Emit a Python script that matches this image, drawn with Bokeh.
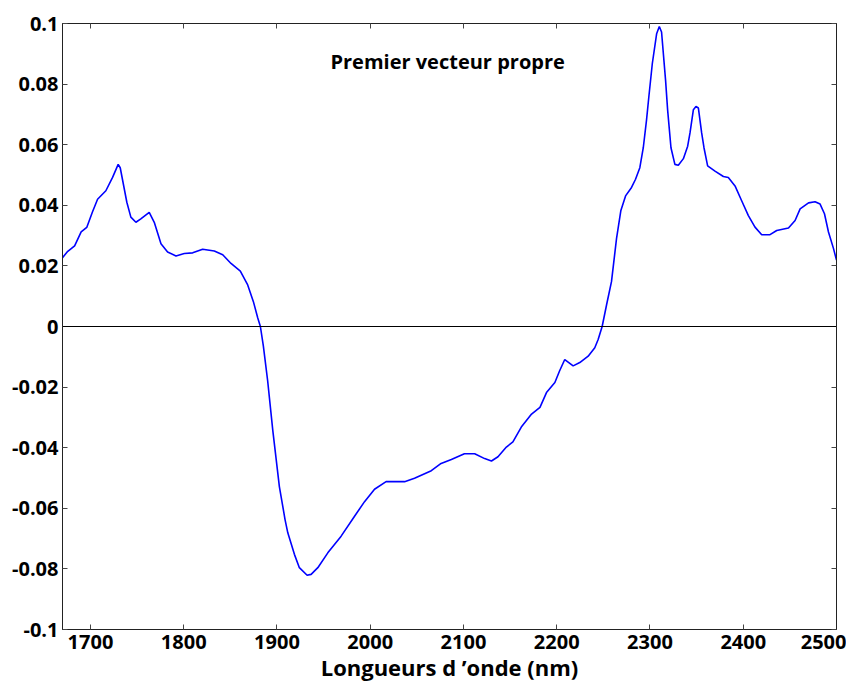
from bokeh.plotting import figure
from bokeh.models import Range1d, FixedTicker, LinearAxis, Span
from bokeh.core.properties import value
from bokeh.embed import file_html
from bokeh.resources import INLINE

wavelength = [1670, 1675, 1683, 1690, 1696, 1702, 1707.6, 1716.5, 1723.7, 1729.7, 1731.9,
              1739, 1743.3, 1748.7, 1754, 1763, 1768.4, 1775.6, 1782.7, 1791.7, 1800.6,
              1809.6, 1820.3, 1832.8, 1841.8, 1850.7, 1860.7, 1868.6, 1874.7, 1879.4, 1882.2,
              1885.4, 1890, 1895.5, 1902.6, 1908.7, 1911.6, 1918.7, 1924, 1932.3, 1936.6,
              1943.8, 1954.5, 1968.8, 1983, 1993.9, 2004.6, 2017, 2036.8, 2047.5, 2065.5,
              2076, 2087, 2101, 2112, 2122.7, 2130, 2137, 2146, 2153, 2162, 2173, 2182,
              2189, 2198, 2203, 2208.6, 2217.6, 2224.7, 2233.7, 2240.8, 2244.4, 2248.7,
              2253.4, 2258.7, 2261.6, 2264.1, 2268.7, 2273.8, 2280.2, 2284.5, 2289.1,
              2292.8, 2296.3, 2298.8, 2302.5, 2307.1, 2310, 2312.4, 2316.7, 2318.9, 2322.5,
              2326.7, 2330.4, 2335.8, 2340.4, 2342.9, 2346.5, 2349.3, 2351.9, 2355.4,
              2357.9, 2361.8, 2369.7, 2378.7, 2384, 2391.2, 2398.3, 2405.5, 2412.6, 2419.8,
              2428.7, 2435.9, 2448.5, 2455.6, 2461, 2470, 2477, 2482.4, 2487.1, 2491.4,
              2496.8, 2500]
loading = [0.0227, 0.0246, 0.0266, 0.0312, 0.0327, 0.0377, 0.0420, 0.0448, 0.0492, 0.0535, 0.0524,
           0.0410, 0.0361, 0.0344, 0.0355, 0.0377, 0.0344, 0.0273, 0.0246, 0.0233, 0.0241,
           0.0243, 0.0255, 0.0249, 0.0237, 0.0208, 0.0183, 0.0137, 0.0082, 0.0028, 0.0,
           -0.0065, -0.0179, -0.0343, -0.0529, -0.0638, -0.0681, -0.0752, -0.0796, -0.0821, -0.0818,
           -0.0796, -0.0747, -0.0692, -0.0627, -0.0578, -0.0537, -0.0512, -0.0512, -0.0501, -0.0476,
           -0.0452, -0.0439, -0.0420, -0.0420, -0.0436, -0.0444, -0.0430, -0.0398, -0.0381, -0.0332, -0.0289, -0.0267,
           -0.0218, -0.0185, -0.0147, -0.0109, -0.0130, -0.0119, -0.0098, -0.0070, -0.0043, 0.0,
           0.0071, 0.0148, 0.0224, 0.0290, 0.0382, 0.0431, 0.0459, 0.0486, 0.0524,
           0.0590, 0.0682, 0.0759, 0.0868, 0.0966, 0.0990, 0.0972, 0.0813, 0.0715, 0.0590,
           0.0535, 0.0532, 0.0554, 0.0595, 0.0639, 0.0715, 0.0726, 0.0721, 0.0639,
           0.0590, 0.0530, 0.0513, 0.0495, 0.0492, 0.0464, 0.0415, 0.0366, 0.0328, 0.0303,
           0.0303, 0.0317, 0.0325, 0.0350, 0.0388, 0.0408, 0.0412, 0.0404, 0.0372, 0.0312,
           0.0257, 0.0219]

x_ticks = [1700, 1800, 1900, 2000, 2100, 2200, 2300, 2400, 2500]
y_ticks = [-0.1, -0.08, -0.06, -0.04, -0.02, 0, 0.02, 0.04, 0.06, 0.08, 0.1]
y_tick_labels = ["-0.1", "-0.08", "-0.06", "-0.04", "-0.02", "0", "0.02", "0.04", "0.06", "0.08", "0.1"]
title_text = "Premier vecteur propre"
x_label = "Longueurs d \u2019onde (nm)"

FONT = "Open Sans"

p = figure(width=846, height=684, output_backend="svg", toolbar_location=None,
           x_range=Range1d(1670, 2500), y_range=Range1d(-0.1, 0.1),
           min_border_left=62, min_border_right=10, min_border_top=23, min_border_bottom=10)
p.xgrid.visible = False
p.ygrid.visible = False
p.outline_line_color = "black"
p.outline_line_width = 1

def style(ax):
    ax.major_tick_in = 5
    ax.major_tick_out = 0
    ax.minor_tick_in = 5
    ax.minor_tick_out = 0
    ax.axis_line_color = "#222222"
    ax.major_tick_line_color = "#444444"
    ax.minor_tick_line_color = "#444444"
    ax.major_label_text_font = FONT
    ax.major_label_text_font_style = "bold"
    ax.major_label_text_font_size = "20px"
    ax.major_label_text_color = "black"

xa = p.xaxis[0]
xa.ticker = FixedTicker(ticks=x_ticks)
style(xa)
xa.major_label_standoff = 5
xa.axis_label = x_label
xa.axis_label_text_font = FONT
xa.axis_label_text_font_style = "bold"
xa.axis_label_text_font_size = "22px"
xa.axis_label_text_color = "black"
xa.axis_label_standoff = 0

ya = p.yaxis[0]
ya.ticker = FixedTicker(ticks=y_ticks)
ya.major_label_overrides = {t: l for t, l in zip(y_ticks, y_tick_labels)}
style(ya)
ya.major_label_standoff = 4

top = LinearAxis(ticker=FixedTicker(ticks=[], minor_ticks=x_ticks))
style(top)
p.add_layout(top, "above")
right = LinearAxis(ticker=FixedTicker(ticks=[], minor_ticks=y_ticks))
style(right)
p.add_layout(right, "right")

p.add_layout(Span(location=0, dimension="width", line_color="black", line_width=1))

p.line(wavelength, loading, line_color="#0000ff", line_width=1.6)

p.text(x=[2083], y=[0.0875], text=[title_text], text_align="center", text_baseline="middle",
       text_font=value(FONT), text_font_style="bold", text_font_size="20px", text_color="black")

open("out.html", "w").write(file_html(p, INLINE))
